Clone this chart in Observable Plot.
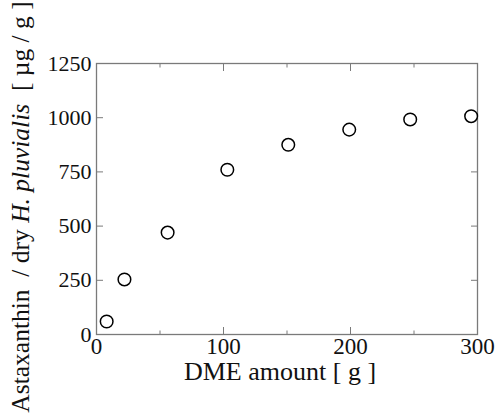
<!DOCTYPE html>
<html>
<head>
<meta charset="utf-8">
<script src="https://cdn.jsdelivr.net/npm/d3@7"></script>
<script src="https://cdn.jsdelivr.net/npm/@observablehq/plot@0.6"></script>
<style>
  html, body { margin: 0; padding: 0; background: #fff; }
  #chart svg { display: block; }
</style>
</head>
<body>
<div id="chart"></div>
<script>
// Data
const dmeAmount = [8, 22, 56, 103, 151, 199, 247, 295];
const astaxanthin = [60, 254, 470, 760, 875, 945, 992, 1007];
const xMajorTicks = [0, 100, 200, 300];
const xMinorTicks = [50, 150, 250];
const yMajorTicks = [0, 250, 500, 750, 1000, 1250];
const xLabel = "DME amount [ g ]";
const yLabelParts = [
  {text: "Astaxanthin  / dry ", italic: false},
  {text: "H. pluvialis", italic: true},
  {text: "  [ µg / g ]", italic: false}
];

const data = dmeAmount.map((x, i) => ({x, y: astaxanthin[i]}));
const font = "Liberation Serif";
const frameColor = "#7a7a7a";
const fmt = d3.format("d");

const chart = Plot.plot({
  width: 500,
  height: 419,
  marginLeft: 96,
  marginRight: 23,
  marginTop: 63,
  marginBottom: 85,
  style: {fontFamily: font, fontSize: "23px", color: "#111", background: "#fff"},
  x: {domain: [0, 300]},
  y: {domain: [0, 1250]},
  marks: [
    Plot.frame({stroke: frameColor, strokeWidth: 1.3}),
    // tick labels
    Plot.text(xMajorTicks, {x: d => d, frameAnchor: "bottom", dy: 3, lineAnchor: "top", text: fmt, fontSize: 23, fontFamily: font, fill: "#111"}),
    Plot.text(yMajorTicks, {y: d => d, frameAnchor: "left", dx: -5, textAnchor: "end", text: fmt, fontSize: 22, fontFamily: font, fill: "#111"}),
    // inward tick marks
    Plot.axisX(xMajorTicks, {anchor: "bottom", tickSize: -7, tickFormat: () => "", label: null, stroke: frameColor}),
    Plot.axisX(xMajorTicks, {anchor: "top", tickSize: -7, tickFormat: () => "", label: null, stroke: frameColor}),
    Plot.axisX(xMinorTicks, {anchor: "bottom", tickSize: -3.5, tickFormat: () => "", label: null, stroke: frameColor}),
    Plot.axisX(xMinorTicks, {anchor: "top", tickSize: -3.5, tickFormat: () => "", label: null, stroke: frameColor}),
    Plot.axisY(yMajorTicks, {anchor: "left", tickSize: -7, tickFormat: () => "", label: null, stroke: frameColor}),
    Plot.axisY(yMajorTicks, {anchor: "right", tickSize: -7, tickFormat: () => "", label: null, stroke: frameColor}),
    Plot.dot(data, {x: "x", y: "y", r: 6.3, stroke: "#000", strokeWidth: 1.5, fill: "#fff"}),
    Plot.text([xLabel], {frameAnchor: "bottom", dy: 45, dx: -7, text: d => d, fontSize: 26, fontFamily: font, fill: "#111"})
  ]
});

document.getElementById("chart").appendChild(chart);

// Y axis title with italic species name
const svg = d3.select(chart);
const yTitle = svg.append("text")
  .attr("transform", "translate(23,207) rotate(-90)")
  .attr("text-anchor", "middle")
  .attr("dominant-baseline", "middle")
  .attr("font-family", font)
  .attr("font-size", 25.5)
  .attr("fill", "#111")
  .attr("xml:space", "preserve")
  .style("white-space", "pre");
yLabelParts.forEach(p => {
  yTitle.append("tspan")
    .attr("font-style", p.italic ? "italic" : "normal")
    .text(p.text);
});
</script>
</body>
</html>
